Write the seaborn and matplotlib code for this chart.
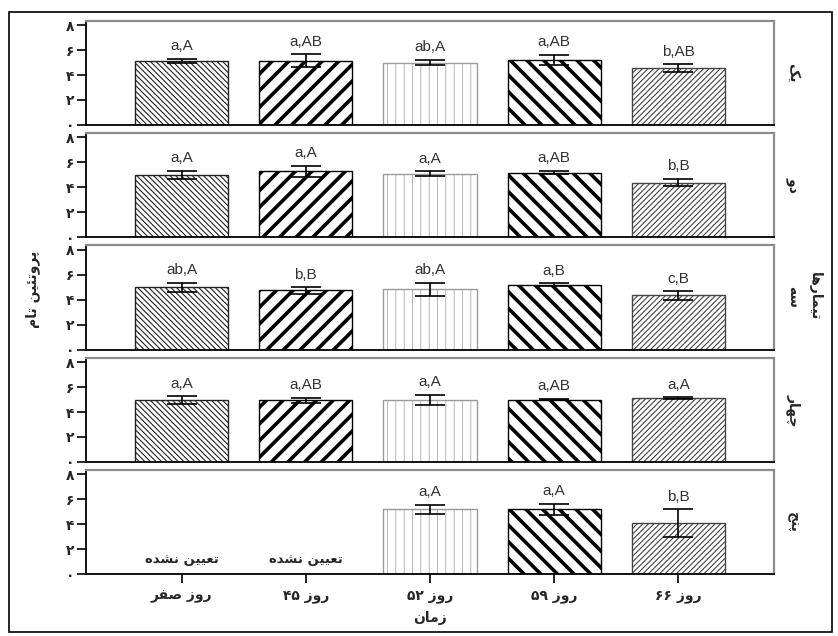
import re
import numpy as np
import pandas as pd
import matplotlib
matplotlib.use("Agg")
import matplotlib.pyplot as plt
from matplotlib.patches import Rectangle
import seaborn as sns

# ---- data -------------------------------------------------------------
times = ["روز صفر", "روز ۴۵", "روز ۵۲", "روز ۵۹", "روز ۶۶"]
treatments = ["یک", "دو", "سه", "چهار", "پنج"]

mean_1 = [5.14, 5.14, 5.00, 5.20, 4.54]
err_1 = [0.14, 0.51, 0.20, 0.40, 0.32]
lab_1 = ["a,A", "a,AB", "ab,A", "a,AB", "b,AB"]

mean_2 = [4.99, 5.28, 5.07, 5.18, 4.38]
err_2 = [0.34, 0.46, 0.20, 0.15, 0.30]
lab_2 = ["a,A", "a,A", "a,A", "a,AB", "b,B"]

mean_3 = [5.00, 4.74, 4.82, 5.20, 4.34]
err_3 = [0.35, 0.27, 0.55, 0.10, 0.35]
lab_3 = ["ab,A", "b,B", "ab,A", "a,B", "c,B"]

mean_4 = [4.96, 4.96, 4.96, 5.00, 5.10]
err_4 = [0.30, 0.20, 0.40, 0.06, 0.08]
lab_4 = ["a,A", "a,AB", "a,A", "a,AB", "a,A"]

mean_5 = [np.nan, np.nan, 5.20, 5.20, 4.08]
err_5 = [np.nan, np.nan, 0.35, 0.43, 1.12]
lab_5 = ["", "", "a,A", "a,A", "b,B"]

not_measured = "تعیین نشده"
y_ticks = [0, 2, 4, 6, 8]
y_tick_labels = ["۰", "۲", "۴", "۶", "۸"]
y_title = "پروتئین تام"
x_title = "زمان"
row_title = "تیمارها"

# ---- minimal Persian shaping (presentation forms + visual order) --------
_F = {
    "ا": (0xFE8D, 0xFE8E), "د": (0xFEA9, 0xFEAA), "ر": (0xFEAD, 0xFEAE),
    "ز": (0xFEAF, 0xFEB0), "و": (0xFEED, 0xFEEE),
    "پ": (0xFB56, 0xFB57, 0xFB58, 0xFB59), "ت": (0xFE95, 0xFE96, 0xFE97, 0xFE98),
    "ج": (0xFE9D, 0xFE9E, 0xFE9F, 0xFEA0), "چ": (0xFB7A, 0xFB7B, 0xFB7C, 0xFB7D),
    "س": (0xFEB1, 0xFEB2, 0xFEB3, 0xFEB4), "ش": (0xFEB5, 0xFEB6, 0xFEB7, 0xFEB8),
    "ص": (0xFEB9, 0xFEBA, 0xFEBB, 0xFEBC), "ع": (0xFEC9, 0xFECA, 0xFECB, 0xFECC),
    "ف": (0xFED1, 0xFED2, 0xFED3, 0xFED4), "ک": (0xFB8E, 0xFB8F, 0xFB90, 0xFB91),
    "م": (0xFEE1, 0xFEE2, 0xFEE3, 0xFEE4), "ن": (0xFEE5, 0xFEE6, 0xFEE7, 0xFEE8),
    "ه": (0xFEE9, 0xFEEA, 0xFEEB, 0xFEEC), "ی": (0xFBFC, 0xFBFD, 0xFBFE, 0xFBFF),
    "ئ": (0xFE89, 0xFE8A, 0xFE8B, 0xFE8C),
}
_DIG = "0123456789۰۱۲۳۴۵۶۷۸۹"


def fa(s):
    out = []
    for i, ch in enumerate(s):
        f = _F.get(ch)
        if f is None:
            out.append(ch)
            continue
        prev = s[i - 1] if i > 0 else None
        nxt = s[i + 1] if i + 1 < len(s) else None
        jp = prev in _F and len(_F[prev]) == 4
        jn = len(f) == 4 and nxt in _F
        if jp and jn:
            c = f[3]
        elif jp:
            c = f[1]
        elif jn:
            c = f[2]
        else:
            c = f[0]
        out.append(chr(c))
    shaped = "".join(out)
    runs = re.findall(r"[%s]+|[^%s]+" % (_DIG, _DIG), shaped)
    return "".join(r if r[0] in _DIG else r[::-1] for r in reversed(runs))


# ---- long table -------------------------------------------------------
means = [mean_1, mean_2, mean_3, mean_4, mean_5]
errs = [err_1, err_2, err_3, err_4, err_5]
labs = [lab_1, lab_2, lab_3, lab_4, lab_5]
rows = []
for tr, m, e, l in zip(treatments, means, errs, labs):
    for t, mv, ev, lv in zip(times, m, e, l):
        rows.append({"treatment": tr, "time": t, "mean": mv, "err": ev, "label": lv})
df = pd.DataFrame(rows)

# per-day bar styles: hatch, hatch width, edge colour
styles = [
    ("\\" * 6, 0.8, "#222222"),
    ("//", 2.6, "black"),
    ("||", 0.5, "#9a9a9a"),
    ("\\\\", 2.6, "black"),
    ("/" * 6, 0.8, "#444444"),
]

sns.set_theme(style="white")
plt.rcParams["font.family"] = ["DejaVu Sans"]

fig, axes = plt.subplots(5, 1, figsize=(8.38, 6.36), dpi=100, sharex=True)
fig.subplots_adjust(left=0.1026, right=0.9236, top=0.9675, bottom=0.097, hspace=0.077)

for k, (ax, tr) in enumerate(zip(axes, treatments)):
    sub = df[df["treatment"] == tr]
    valid = sub.dropna(subset=["mean"])
    sns.barplot(data=valid, x="time", y="mean", order=times, ax=ax, width=0.75,
                errorbar=None, color="white", edgecolor="black", linewidth=1.0,
                saturation=1)
    for p in ax.patches:
        idx = int(round(p.get_x() + p.get_width() / 2))
        h, hlw, ec = styles[idx]
        p.set_hatch(h)
        p.set_edgecolor(ec)
        p.set_facecolor("white")
        if hasattr(p, "set_hatch_linewidth"):
            p.set_hatch_linewidth(hlw)
    pos = [times.index(t) for t in valid["time"]]
    ax.errorbar(pos, valid["mean"], yerr=valid["err"], fmt="none", ecolor="black",
                elinewidth=1.2, capsize=11, capthick=1.2, zorder=5)
    for x, (_, r) in zip(pos, valid.iterrows()):
        ax.annotate(r["label"], (x, r["mean"] + r["err"]), xytext=(0, 4),
                    textcoords="offset points", ha="center", va="bottom",
                    fontsize=11, color="#333333", family="Liberation Sans")

    ax.set_ylim(0, 8.35)
    ax.set_xlim(-0.77, 4.77)
    ax.set_yticks(y_ticks)
    ax.set_yticklabels(y_tick_labels, fontsize=10, fontweight="bold")
    ax.tick_params(axis="y", direction="out", length=6.5, width=1.2, color="black",
                   pad=2, left=True)
    ax.set_ylabel("")
    ax.set_xlabel("")
    for side in ("top", "right"):
        ax.spines[side].set_color("#8c8c8c")
        ax.spines[side].set_linewidth(1.6)
    for side in ("left", "bottom"):
        ax.spines[side].set_color("black")
        ax.spines[side].set_linewidth(1.3)
    ax.text(1.018, 0.5, fa(tr), transform=ax.transAxes, rotation=270,
            va="center", ha="left", fontsize=10, fontweight="bold")
    if k < 4:
        ax.tick_params(axis="x", length=0, labelbottom=False)

last = axes[-1]
for x, m in enumerate(mean_5):
    if np.isnan(m):
        last.text(x, 1.15, fa(not_measured), ha="center", va="center",
                  fontsize=9.5, fontweight="bold")
last.set_xticks(range(len(times)))
last.set_xticklabels([fa(t) for t in times], fontsize=10, fontweight="bold")
last.tick_params(axis="x", direction="out", length=6.5, width=1.2, color="black",
                 pad=4, bottom=True)
last.set_xlabel(fa(x_title), fontsize=10, fontweight="bold", labelpad=6)

fig.text(0.039, 0.545, fa(y_title), rotation=90, ha="center", va="center",
         fontsize=10, fontweight="bold")
fig.text(0.973, 0.535, fa(row_title), rotation=270, ha="center", va="center",
         fontsize=10, fontweight="bold")

fig.patches.append(Rectangle((0.0107, 0.006), 0.982, 0.975, transform=fig.transFigure,
                             fill=False, edgecolor="black", linewidth=1.2))

fig.savefig("out.png", dpi=100)
